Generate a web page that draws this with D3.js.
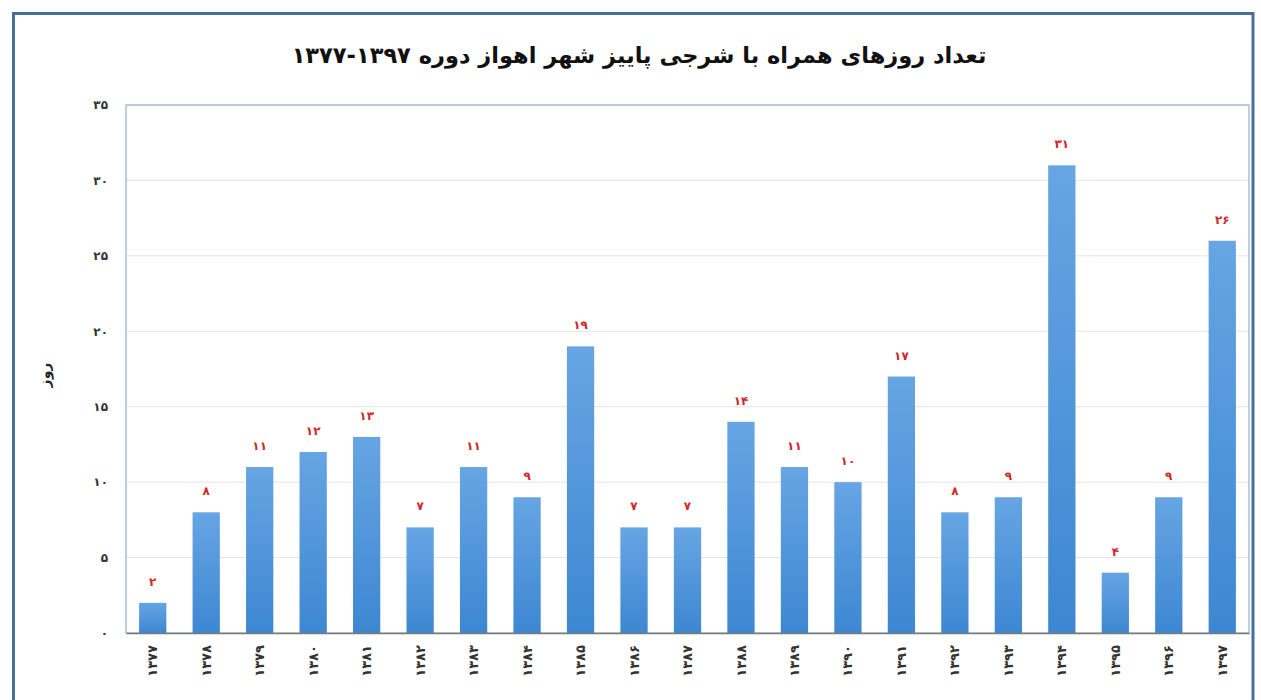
<!DOCTYPE html>
<html>
<head>
<meta charset="utf-8">
<script src="https://cdn.jsdelivr.net/npm/d3@7"></script>
<style>
  body { margin: 0; background: #fff; }
  svg { display: block; font-family: "DejaVu Sans", sans-serif; }
</style>
</head>
<body>
<div id="chart"></div>
<script>
// data
var years = ["1377","1378","1379","1380","1381","1382","1383","1384","1385","1386","1387",
             "1388","1389","1390","1391","1392","1393","1394","1395","1396","1397"];
var days = [2, 8, 11, 12, 13, 7, 11, 9, 19, 7, 7, 14, 11, 10, 17, 8, 9, 31, 4, 9, 26];
var yTicks = [0, 5, 10, 15, 20, 25, 30, 35];
var title = "تعداد روزهای همراه با شرجی پاییز شهر اهواز دوره ۱۳۹۷-۱۳۷۷";
var yLabel = "روز";

// persian digits
function fa(v) {
  return String(v).replace(/[0-9]/g, function(c) { return "۰۱۲۳۴۵۶۷۸۹"[+c]; });
}

var W = 1261, H = 700;
var margin = {left: 126, right: 12, top: 105, bottom: 67};

var svg = d3.select("#chart").append("svg")
    .attr("width", W)
    .attr("height", H);

var defs = svg.append("defs");
var grad = defs.append("linearGradient")
    .attr("id", "barGrad")
    .attr("x1", 0).attr("y1", 0).attr("x2", 0).attr("y2", 1);
grad.append("stop").attr("offset", "0%").attr("stop-color", "#67a5e3");
grad.append("stop").attr("offset", "100%").attr("stop-color", "#3d87d2");

// outer frame
svg.append("path")
    .attr("d", "M13.5," + H + " V13.5 H1253 V" + H)
    .attr("fill", "none")
    .attr("stroke", "#4b6c9e")
    .attr("stroke-width", 3);

var x = d3.scaleBand()
    .domain(years)
    .range([margin.left, W - margin.right])
    .paddingInner(0.49)
    .paddingOuter(0.245);

var y = d3.scaleLinear()
    .domain([0, 35])
    .range([H - margin.bottom, margin.top]);

// title
svg.append("text")
    .attr("x", 639)
    .attr("y", 63)
    .attr("text-anchor", "middle")
    .attr("direction", "rtl")
    .attr("font-size", "22.5px")
    .attr("font-weight", "bold")
    .attr("fill", "#111")
    .text(title);

// grid lines
svg.append("g")
    .selectAll("line")
    .data(yTicks.slice(1))
    .enter()
    .append("line")
      .attr("x1", margin.left)
      .attr("x2", W - margin.right)
      .attr("y1", function(d) { return y(d); })
      .attr("y2", function(d) { return y(d); })
      .attr("stroke", "#e3e3e3");

// plot frame
svg.append("rect")
    .attr("x", margin.left)
    .attr("y", margin.top)
    .attr("width", W - margin.right - margin.left)
    .attr("height", y(0) - margin.top)
    .attr("fill", "none")
    .attr("stroke", "#a8bfd6")
    .attr("stroke-width", 1.5);

// y axis
var yAxis = svg.append("g")
    .attr("transform", "translate(" + margin.left + ",0)")
    .call(d3.axisLeft(y).tickValues(yTicks).tickSize(0).tickPadding(18).tickFormat(fa));
yAxis.select(".domain").remove();
yAxis.selectAll("text")
    .attr("font-size", "12px")
    .attr("font-weight", "bold")
    .attr("fill", "#333")
    .attr("font-family", "DejaVu Sans, sans-serif");

// bars
svg.selectAll("rect.bar")
    .data(days)
    .enter()
    .append("rect")
      .attr("class", "bar")
      .attr("x", function(d, i) { return x(years[i]); })
      .attr("y", function(d) { return y(d); })
      .attr("width", x.bandwidth())
      .attr("height", function(d) { return y(0) - y(d); })
      .attr("fill", "url(#barGrad)");

// value labels
svg.selectAll("text.val")
    .data(days)
    .enter()
    .append("text")
      .attr("class", "val")
      .attr("x", function(d, i) { return x(years[i]) + x.bandwidth() / 2; })
      .attr("y", function(d) { return y(d) - 17; })
      .attr("text-anchor", "middle")
      .attr("font-size", "12px")
      .attr("font-weight", "bold")
      .attr("fill", "#d0282a")
      .text(function(d) { return fa(d); });

// x axis
var xAxis = svg.append("g")
    .attr("transform", "translate(0," + y(0) + ")")
    .call(d3.axisBottom(x).tickSize(0).tickFormat(fa));
xAxis.select(".domain")
    .attr("stroke", "#7a7a7a")
    .attr("stroke-width", 1.5);
xAxis.selectAll("text")
    .attr("font-size", "13px")
    .attr("font-weight", "bold")
    .attr("fill", "#333")
    .attr("font-family", "DejaVu Sans, sans-serif")
    .attr("text-anchor", "end")
    .attr("dy", "0.35em")
    .attr("letter-spacing", "1px")
    .attr("transform", "translate(0,12) rotate(-90)")
    .attr("y", 0)
    .attr("x", 0);

// y label
svg.append("text")
    .attr("transform", "translate(50,375) rotate(-90)")
    .attr("text-anchor", "middle")
    .attr("font-size", "14px")
    .attr("font-weight", "bold")
    .attr("fill", "#222")
    .text(yLabel);
</script>
</body>
</html>
